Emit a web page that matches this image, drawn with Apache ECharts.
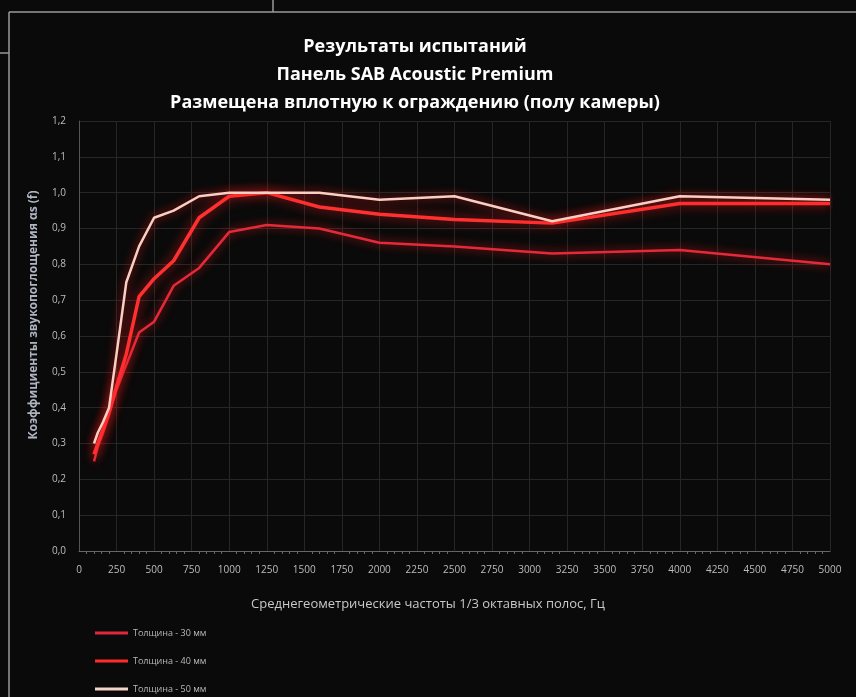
<!DOCTYPE html>
<html>
<head>
<meta charset="utf-8">
<script src="https://cdn.jsdelivr.net/npm/echarts@6/dist/echarts.min.js"></script>
<style>
html,body{margin:0;padding:0;background:#0a0a0a;}
#c{width:856px;height:697px;}
</style>
</head>
<body>
<div id="c"></div>
<script>
var titleLines = ['Результаты испытаний', 'Панель SAB Acoustic Premium', 'Размещена вплотную к ограждению (полу камеры)'];
var xAxisName = 'Среднегеометрические частоты 1/3 октавных полос, Гц';
var yAxisName = 'Коэффициенты звукопоглощения αs (f)';
var seriesNames = ['Толщина - 30 мм', 'Толщина - 40 мм', 'Толщина - 50 мм'];
var freqs = [100, 125, 160, 200, 250, 315, 400, 500, 630, 800, 1000, 1250, 1600, 2000, 2500, 3150, 4000, 5000];
var s30 = [0.25, 0.29, 0.33, 0.38, 0.45, 0.52, 0.61, 0.64, 0.74, 0.79, 0.89, 0.91, 0.90, 0.86, 0.85, 0.83, 0.84, 0.80];
var s40 = [0.27, 0.30, 0.34, 0.39, 0.46, 0.55, 0.71, 0.76, 0.81, 0.93, 0.99, 1.00, 0.96, 0.94, 0.925, 0.915, 0.97, 0.97];
var s50 = [0.30, 0.33, 0.36, 0.40, 0.55, 0.75, 0.85, 0.93, 0.95, 0.99, 1.00, 1.00, 1.00, 0.98, 0.99, 0.92, 0.99, 0.98];

function pairs(vals){ return freqs.map(function(f,i){ return [f, vals[i]]; }); }

var chart = echarts.init(document.getElementById('c'), null, {renderer:'canvas'});
var glow = 'rgba(255,30,30,0.8)';
chart.setOption({
  backgroundColor: '#0a0a0a',
  animation: false,
  title: {
    text: titleLines.join('\n'),
    left: 410, top: 28, textAlign: 'center',
    textStyle: {color:'#ffffff', fontFamily:'Open Sans', fontWeight:'bold', fontSize:18, lineHeight:28}
  },
  grid: {left:79, right:26, top:121, bottom:146, containLabel:false},
  xAxis: {
    type:'value', min:0, max:5000, interval:250,
    axisLine:{show:true, lineStyle:{color:'#666', width:1}},
    axisTick:{show:false},
    minorTick:{show:true, splitNumber:5, length:3, lineStyle:{color:'#666'}},
    axisLabel:{color:'#bdbdbd', fontFamily:'Open Sans', fontSize:10, margin:14,
      formatter:function(v){ return String(v); }},
    splitLine:{show:true, lineStyle:{color:'#262626', width:1}}
  },
  yAxis: {
    type:'value', min:0, max:1.2, interval:0.1,
    axisLine:{show:true, lineStyle:{color:'#555', width:1}},
    axisTick:{show:false},
    axisLabel:{color:'#bdbdbd', fontFamily:'Open Sans', fontSize:10, margin:13,
      formatter:function(v){ return v.toFixed(1).replace('.', ','); }},
    splitLine:{show:true, lineStyle:{color:'#262626', width:1}}
  },
  legend: {
    orient:'vertical', left:95, top:627, height:70, padding:0, itemGap:16,
    itemWidth:33, itemHeight:3, icon:'rect',
    textStyle:{color:'#b8b8b8', fontFamily:'Open Sans', fontSize:9, lineHeight:12},
    data: seriesNames
  },
  graphic: [
    {type:'line', shape:{x1:273, y1:0, x2:273, y2:12}, style:{stroke:'#9a9a9a', lineWidth:1.5}},
    {type:'line', shape:{x1:9, y1:12, x2:856, y2:12}, style:{stroke:'#9a9a9a', lineWidth:1.5}},
    {type:'line', shape:{x1:9, y1:12, x2:9, y2:697}, style:{stroke:'#9a9a9a', lineWidth:1.5}},
    {type:'line', shape:{x1:0, y1:53, x2:9, y2:53}, style:{stroke:'#9a9a9a', lineWidth:1.5}},
    {type:'text', x:428, y:604, style:{text:xAxisName, fill:'#c8c8c8', font:'13px "Open Sans"', textAlign:'center', textVerticalAlign:'middle'}},
    {type:'text', x:34, y:315, rotation:Math.PI/2, style:{text:yAxisName, fill:'#aeb4c0', font:'bold 12px "Open Sans"', textAlign:'center', textVerticalAlign:'middle'}}
  ],
  series: [
    {name:seriesNames[0], type:'line', data:pairs(s30), symbol:'none', smooth:false,
     itemStyle:{color:'#e0283c'},
     lineStyle:{color:'#e42a3a', width:2.5, shadowBlur:10, shadowColor:glow}},
    {name:seriesNames[1], type:'line', data:pairs(s40), symbol:'none', smooth:false,
     itemStyle:{color:'#ff2b2b'},
     lineStyle:{color:'#ff3030', width:3.5, shadowBlur:12, shadowColor:glow}},
    {name:seriesNames[2], type:'line', data:pairs(s50), symbol:'none', smooth:false,
     itemStyle:{color:'#f6d2c8'},
     lineStyle:{color:'#f8cfc2', width:2.5, shadowBlur:10, shadowColor:glow}}
  ]
});
</script>
</body>
</html>
